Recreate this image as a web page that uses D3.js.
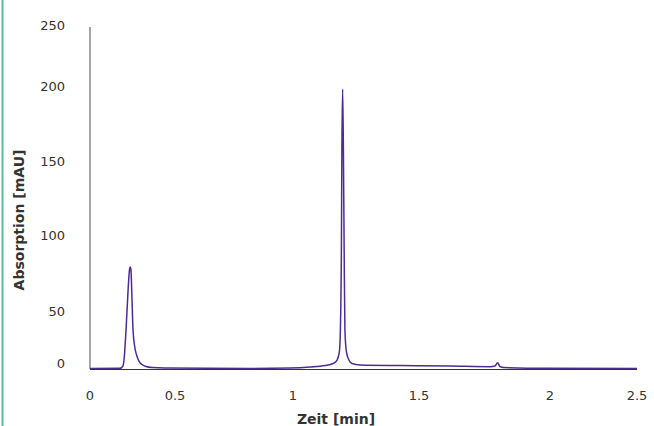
<!DOCTYPE html>
<html>
<head>
<meta charset="utf-8">
<script src="https://cdn.jsdelivr.net/npm/d3@7"></script>
<style>
  html, body { margin: 0; padding: 0; background: #fff; }
  svg { display: block; }
</style>
</head>
<body>
<svg id="chart" width="654" height="426"></svg>
<script>
// ---- data ----
const xTicks = [0, 0.5, 1, 1.5, 2, 2.5];
const xTickLabels = ["0", "0.5", "1", "1.5", "2", "2.5"];
const yTicks = [0, 50, 100, 150, 200, 250];
const yTickLabels = ["0", "50", "100", "150", "200", "250"];
const xTitle = "Zeit [min]";
const yTitle = "Absorption [mAU]";

// time [min]
const time = [
  0, 0.176, 0.194, 0.2, 0.212, 0.224, 0.232, 0.237, 0.241, 0.247, 0.253, 0.262, 0.274, 0.288, 0.306, 0.329, 0.365, 0.441,
  0.818, 0.987, 1.067, 1.127, 1.159, 1.175, 1.184, 1.188, 1.192, 1.194, 1.197, 1.200, 1.203, 1.206, 1.212, 1.222, 1.234, 1.266,
  1.425, 1.618, 1.771, 1.790, 1.800, 1.809, 1.824, 2.0, 2.5
];
// absorption [mAU]
const absorption = [
  0.4, 0.6, 2.7, 8, 35, 65, 78, 80.3, 78, 59, 35, 21, 12.5, 7, 4, 2.2, 1.3, 0.9,
  0.45, 0.9, 1.8, 3.1, 4.9, 8.0, 15.2, 34.8, 91.4, 158.7, 199.3, 158.7, 91.4, 34.8, 15.2, 8.0, 4.9, 3.6,
  3.1, 2.7, 2.1, 2.7, 5.6, 2.2, 1.3, 0.6, 0.45
];

// ---- drawing ----
const svg = d3.select("#chart");

const x = d3.scaleLinear()
  .domain(xTicks)
  .range([90, 175, 293, 419, 550, 637]);
const y = d3.scaleLinear()
  .domain(yTicks)
  .range([369, 313, 237, 163, 88, 27]);

// left green border
svg.append("line")
  .attr("x1", 2.5).attr("x2", 2.5).attr("y1", 0).attr("y2", 426)
  .attr("stroke", "#52c29f").attr("stroke-width", 2);

// axes lines
svg.append("line")
  .attr("x1", x(0)).attr("x2", x(0))
  .attr("y1", y(250)).attr("y2", y(0))
  .attr("stroke", "#6b6b6b").attr("stroke-width", 1.2);
svg.append("line")
  .attr("x1", x(0)).attr("x2", x(2.5))
  .attr("y1", y(0) + 0.5).attr("y2", y(0) + 0.5)
  .attr("stroke", "#333").attr("stroke-width", 1.2);

// y tick labels
svg.append("g").selectAll("text")
  .data(yTicks)
  .join("text")
  .attr("x", 65)
  .attr("y", (d, i) => y(d) - (i === 0 ? 6 : 2))
  .attr("dy", "0.35em")
  .attr("text-anchor", "end")
  .attr("font-family", "DejaVu Sans, Verdana, sans-serif")
  .attr("font-size", 13)
  .attr("fill", "#333")
  .text((d, i) => yTickLabels[i]);

// x tick labels
svg.append("g").selectAll("text")
  .data(xTicks)
  .join("text")
  .attr("x", d => x(d))
  .attr("y", 395)
  .attr("dy", "0.35em")
  .attr("text-anchor", "middle")
  .attr("font-family", "DejaVu Sans, Verdana, sans-serif")
  .attr("font-size", 13)
  .attr("fill", "#333")
  .text((d, i) => xTickLabels[i]);

// titles
svg.append("text")
  .attr("x", 336).attr("y", 424)
  .attr("text-anchor", "middle")
  .attr("font-family", "DejaVu Sans, Verdana, sans-serif")
  .attr("font-weight", "bold")
  .attr("font-size", 14)
  .attr("fill", "#333")
  .text(xTitle);
svg.append("text")
  .attr("transform", "translate(24,220) rotate(-90)")
  .attr("text-anchor", "middle")
  .attr("font-family", "DejaVu Sans, Verdana, sans-serif")
  .attr("font-weight", "bold")
  .attr("font-size", 14)
  .attr("fill", "#333")
  .text(yTitle);

// line
const pts = time.map((t, i) => [t, absorption[i]]);
const line = d3.line()
  .x(d => x(d[0]))
  .y(d => y(d[1]))
  .curve(d3.curveMonotoneX);
svg.append("path")
  .datum(pts)
  .attr("d", line)
  .attr("fill", "none")
  .attr("stroke", "#4b2d91")
  .attr("stroke-width", 1.5)
  .attr("stroke-linejoin", "round");
</script>
</body>
</html>
